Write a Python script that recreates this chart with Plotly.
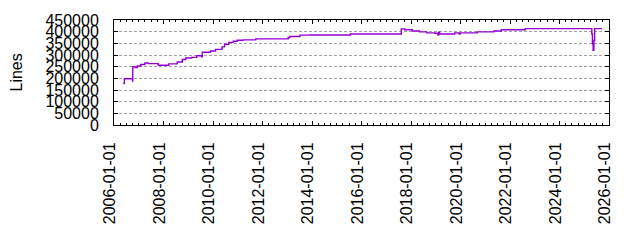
import plotly.graph_objects as go

dates = [
    "2006-05-17", "2006-06-03", "2006-10-01", "2006-10-05", "2006-11-06", "2006-12-10",
    "2007-01-30", "2007-04-01", "2007-05-21", "2007-10-16", "2008-03-20", "2008-07-22",
    "2008-10-05", "2008-11-23", "2009-02-20", "2009-05-05", "2009-07-16", "2009-07-27",
    "2009-11-24", "2010-02-08", "2010-05-15", "2010-06-21", "2010-08-22", "2010-10-27",
    "2010-12-24", "2011-03-21", "2011-09-24", "2013-01-15", "2013-02-08", "2013-07-05",
    "2013-11-28", "2015-07-22", "2017-08-10", "2017-10-01", "2018-01-22", "2018-05-05",
    "2018-08-22", "2018-12-16", "2019-02-02", "2019-02-13", "2019-02-28", "2019-10-08",
    "2019-12-13", "2019-12-28", "2020-09-06", "2021-05-08", "2021-08-25", "2022-08-14",
    "2025-04-22", "2025-05-01", "2025-05-12", "2025-05-23", "2025-06-03", "2025-09-20",
]
lines = [
    178000, 198000, 188000, 250000, 246000, 253000,
    259000, 266000, 263000, 256000, 262000, 270000,
    281000, 287000, 290000, 297000, 292000, 312000,
    317000, 324000, 335000, 346000, 354000, 359000,
    363000, 365000, 369000, 375000, 379000, 385000,
    386000, 390000, 412000, 408000, 403000, 399000,
    395000, 393000, 385000, 398000, 390000, 395000,
    390000, 395000, 399000, 403000, 408000, 413000,
    390000, 348000, 320000, 362000, 413000, 413000,
]

x_range = ["2006-01-01", "2026-01-01"]
y_range = [0, 450000]
y_title = "Lines"

FONT = "Liberation Sans, Arial, sans-serif"

fig = go.Figure()
fig.add_trace(go.Scatter(
    x=dates, y=lines, mode="lines",
    line=dict(color="#9400D3", width=1.4, shape="hv"),
    showlegend=False,
))

fig.update_layout(
    width=640, height=240,
    margin=dict(l=114, r=31, t=20, b=115, pad=0),
    paper_bgcolor="white", plot_bgcolor="white",
    font=dict(family=FONT, size=16, color="black"),
    annotations=[dict(
        text=y_title, textangle=-90, xref="paper", yref="paper",
        x=(16 - 114) / 495, y=0.5, xanchor="center", yanchor="middle",
        showarrow=False, font=dict(family=FONT, size=16, color="black"),
    )],
)

fig.update_xaxes(
    type="date", range=x_range, tickmode="linear", tick0="2006-01-01", dtick="M24",
    tickformat="%Y-%m-%d", tickangle=-90,
    ticks="inside", ticklen=4, tickcolor="black", tickwidth=1,
    showline=True, linecolor="black", linewidth=1, mirror="ticks",
    showgrid=False, zeroline=False,
    ticklabelstandoff=10, ticklabelshift=-4,
    minor=dict(dtick="M3", ticks="inside", ticklen=2, tickcolor="black", showgrid=False),
    tickfont=dict(family=FONT, size=16, color="black"),
)
fig.update_yaxes(
    range=y_range, tickmode="linear", tick0=0, dtick=50000, tickformat="d",
    ticks="inside", ticklen=4, tickcolor="black", tickwidth=1,
    showline=True, linecolor="black", linewidth=1, mirror="ticks",
    showgrid=True, gridcolor="#a0a0a0", gridwidth=1, griddash="3px,2px",
    zeroline=False, ticklabelstandoff=11,
    tickfont=dict(family=FONT, size=16, color="black"),
)

fig.write_html("out.html")
